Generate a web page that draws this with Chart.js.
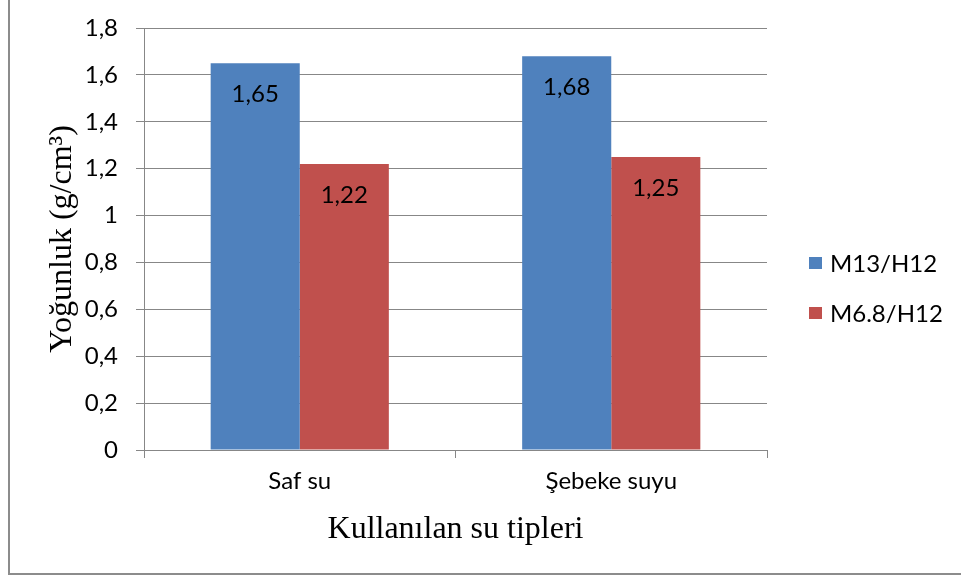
<!DOCTYPE html>
<html>
<head>
<meta charset="utf-8">
<script src="https://cdn.jsdelivr.net/npm/chart.js@4/dist/chart.umd.min.js"></script>
<style>
  html, body { margin: 0; padding: 0; background: #ffffff; }
  #wrap { position: relative; width: 961px; height: 579px; }
</style>
</head>
<body>
<div id="wrap"><canvas id="c" width="961" height="579"></canvas></div>
<script>
const categories = ["Saf su", "Şebeke suyu"];
const seriesNames = ["M13/H12", "M6.8/H12"];
const seriesM13 = [1.65, 1.68];
const seriesM68 = [1.22, 1.25];
const valueLabelsM13 = ["1,65", "1,68"];
const valueLabelsM68 = ["1,22", "1,25"];
const yTicks = [0, 0.2, 0.4, 0.6, 0.8, 1, 1.2, 1.4, 1.6, 1.8];
const yTickLabels = ["0", "0,2", "0,4", "0,6", "0,8", "1", "1,2", "1,4", "1,6", "1,8"];
const yTitle = "Yoğunluk (g/cm³)";
const xTitle = "Kullanılan su tipleri";

const BLUE = "#4F81BD";
const RED = "#C0504D";
const GRID = "#878787";
const LABEL_FONT = "Lato";
const SERIF = "'Liberation Serif', 'Times New Roman', serif";

const valueLabels = [valueLabelsM13, valueLabelsM68];

const framePlugin = {
  id: "frame",
  beforeDraw(chart) {
    const ctx = chart.ctx;
    ctx.save();
    ctx.fillStyle = "#ffffff";
    ctx.fillRect(0, 0, chart.width, chart.height);
    ctx.strokeStyle = "#8c8c8c";
    ctx.lineWidth = 2;
    ctx.beginPath();
    ctx.moveTo(9, 0);
    ctx.lineTo(9, 574);
    ctx.lineTo(chart.width, 574);
    ctx.stroke();
    ctx.restore();
  }
};

const valueLabelPlugin = {
  id: "valueLabels",
  afterDatasetsDraw(chart) {
    const ctx = chart.ctx;
    ctx.save();
    ctx.font = "24px " + LABEL_FONT;
    ctx.fillStyle = "#000000";
    ctx.textAlign = "center";
    ctx.textBaseline = "middle";
    chart.data.datasets.forEach((ds, di) => {
      const meta = chart.getDatasetMeta(di);
      meta.data.forEach((bar, i) => {
        ctx.fillText(valueLabels[di][i], bar.x, bar.y + 31);
      });
    });
    ctx.restore();
  }
};

const legendPlugin = {
  id: "customLegend",
  afterDraw(chart) {
    const ctx = chart.ctx;
    const area = chart.chartArea;
    const midY = (area.top + area.bottom) / 2;
    ctx.save();
    ctx.font = "24px " + LABEL_FONT;
    ctx.textBaseline = "middle";
    ctx.textAlign = "left";
    chart.data.datasets.forEach((ds, i) => {
      const cy = midY + 24 + i * 50;
      const bx = area.right + 42;
      ctx.fillStyle = ds.backgroundColor;
      ctx.fillRect(bx, cy - 6, 13, 12);
      ctx.fillStyle = "#000000";
      ctx.fillText(ds.label, bx + 21, cy + 1);
    });
    ctx.restore();
  }
};

new Chart(document.getElementById("c"), {
  type: "bar",
  data: {
    labels: categories,
    datasets: [
      { label: seriesNames[0], data: seriesM13, backgroundColor: BLUE, borderWidth: 0 },
      { label: seriesNames[1], data: seriesM68, backgroundColor: RED, borderWidth: 0 }
    ]
  },
  options: {
    responsive: false,
    animation: false,
    devicePixelRatio: 1,
    layout: { padding: { left: 43, right: 194, top: 28, bottom: 30 } },
    datasets: { bar: { categoryPercentage: 0.572, barPercentage: 1.0 } },
    plugins: {
      legend: { display: false },
      tooltip: { enabled: false }
    },
    scales: {
      x: {
        offset: true,
        grid: { offset: true, drawOnChartArea: false, drawTicks: true, tickLength: 8, color: GRID, lineWidth: 1 },
        border: { display: true, color: GRID, width: 1 },
        ticks: { font: { family: LABEL_FONT, size: 24 }, color: "#000000", padding: 9, maxRotation: 0 },
        title: { display: true, text: xTitle, color: "#000000", font: { family: SERIF, size: 32 }, padding: { top: 3, bottom: 0 } },
        afterFit(scale) { scale.height = 99; scale.paddingLeft = 0; scale.paddingRight = 0; }
      },
      y: {
        min: 0,
        max: 1.8,
        afterBuildTicks(scale) { scale.ticks = yTicks.map(v => ({ value: v })); },
        grid: { drawOnChartArea: true, drawTicks: true, tickLength: 8, color: GRID, lineWidth: 1 },
        border: { display: true, color: GRID, width: 1 },
        ticks: {
          font: { family: LABEL_FONT, size: 24 },
          color: "#000000",
          padding: 18,
          callback(value) {
            const idx = yTicks.findIndex(t => Math.abs(t - value) < 1e-9);
            return idx >= 0 ? yTickLabels[idx] : "";
          }
        },
        title: { display: true, text: yTitle, color: "#000000", font: { family: SERIF, size: 32 }, padding: { top: 0, bottom: 6 } },
        afterFit(scale) { scale.width = 101; scale.paddingTop = 0; scale.paddingBottom = 0; }
      }
    }
  },
  plugins: [framePlugin, valueLabelPlugin, legendPlugin]
});
</script>
</body>
</html>
